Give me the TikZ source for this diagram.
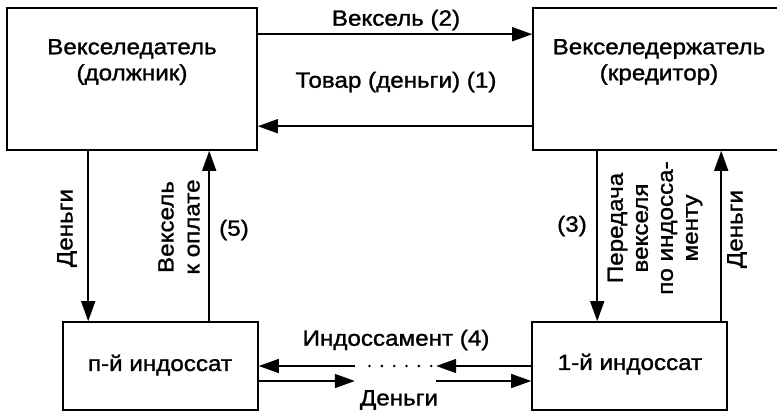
\documentclass[tikz,border=0pt]{standalone}
\usepackage{fontspec}
\setmainfont{Liberation Sans}[FakeStretch=1.1, FakeBold=1.3]
\usetikzlibrary{arrows.meta}
\begin{document}
\begin{tikzpicture}[x=1pt,y=-1pt,
  box/.style={draw, line width=1.6pt, inner sep=0pt},
  txt/.style={font=\fontsize{22}{26}\selectfont, align=center, inner sep=0pt},
  vtxt/.style={txt, rotate=90},
  arr/.style={line width=1.5pt, -{Triangle[length=20pt,width=14pt]}},
  dots/.style={line width=2.8pt, line cap=round, dash pattern=on 0pt off 12.33pt}]
\useasboundingbox (0,0) rectangle (777,413);

% parties
\node[box, minimum width=250pt, minimum height=142pt] (A) at (132,79) {};
\node[box, minimum width=257pt, minimum height=142pt] (B) at (661.5,79) {};
\node[txt] (Atxt) at (132,62) {Векселедатель\\(должник)};
\node[txt] (Btxt) at (659,62) {Векселедержатель\\(кредитор)};
\node[box, minimum width=195pt, minimum height=88pt] (C) at (160.5,366) {};
\node[box, minimum width=195pt, minimum height=88pt] (D) at (629.5,366) {};
\node[txt] (Ctxt) at (160,365) {п-й индоссат};
\node[txt] (Dtxt) at (630,364) {1-й индоссат};

% drawer <-> holder
\draw[arr] ([yshift=-27pt]A.north east) -- ([yshift=-27pt]B.north west);
\draw[arr] ([yshift=-119pt]B.north west) -- ([yshift=-119pt]A.north east);
\node[txt] (l2) at (396,20) {Вексель (2)};
\node[txt] (l1) at (396,82) {Товар (деньги) (1)};

% drawer <-> n-th endorsee
\coordinate (a1) at ([xshift=82pt]A.south west);
\coordinate (a2) at ([xshift=203pt]A.south west);
\draw[arr] (a1) -- (a1 |- C.north);
\draw[arr] (a2 |- C.north) -- (a2);
\node[vtxt] (la1) at (67,228) {Деньги};
\node[vtxt] (la2) at (179,227) {Вексель\\к оплате};
\node[txt] (l5) at (234,230) {(5)};

% holder <-> 1st endorsee
\coordinate (b1) at ([xshift=65pt]B.south west);
\coordinate (b2) at ([xshift=189pt]B.south west);
\draw[arr] (b1) -- (b1 |- D.north);
\draw[arr] (b2 |- D.north) -- (b2);
\node[txt] (l3) at (572,226) {(3)};
\node[vtxt, font=\fontsize{22}{25}\selectfont] (lb1) at (655,228) {Передача\\векселя\\по индосса-\\менту};
\node[vtxt] (lb2) at (737,229) {Деньги};

% chain of endorsements
\coordinate (i1) at ([xshift=96pt]C.east);
\coordinate (i2) at ([xshift=-95pt]D.west);
\draw[arr] (D.west) -- (i2);
\draw[dots] ([xshift=-5pt]i2) -- ([xshift=4pt]i1);
\draw[arr] (i1) -- (C.east);
\draw[arr] ([yshift=-15pt]C.east) -- ([yshift=-15pt]i1);
\draw[arr] ([yshift=-15pt]i2) -- ([yshift=-15pt]D.west);
\node[txt] (l4) at (396,340) {Индоссамент (4)};
\node[txt] (l6) at (399,400) {Деньги};
\end{tikzpicture}
\end{document}
